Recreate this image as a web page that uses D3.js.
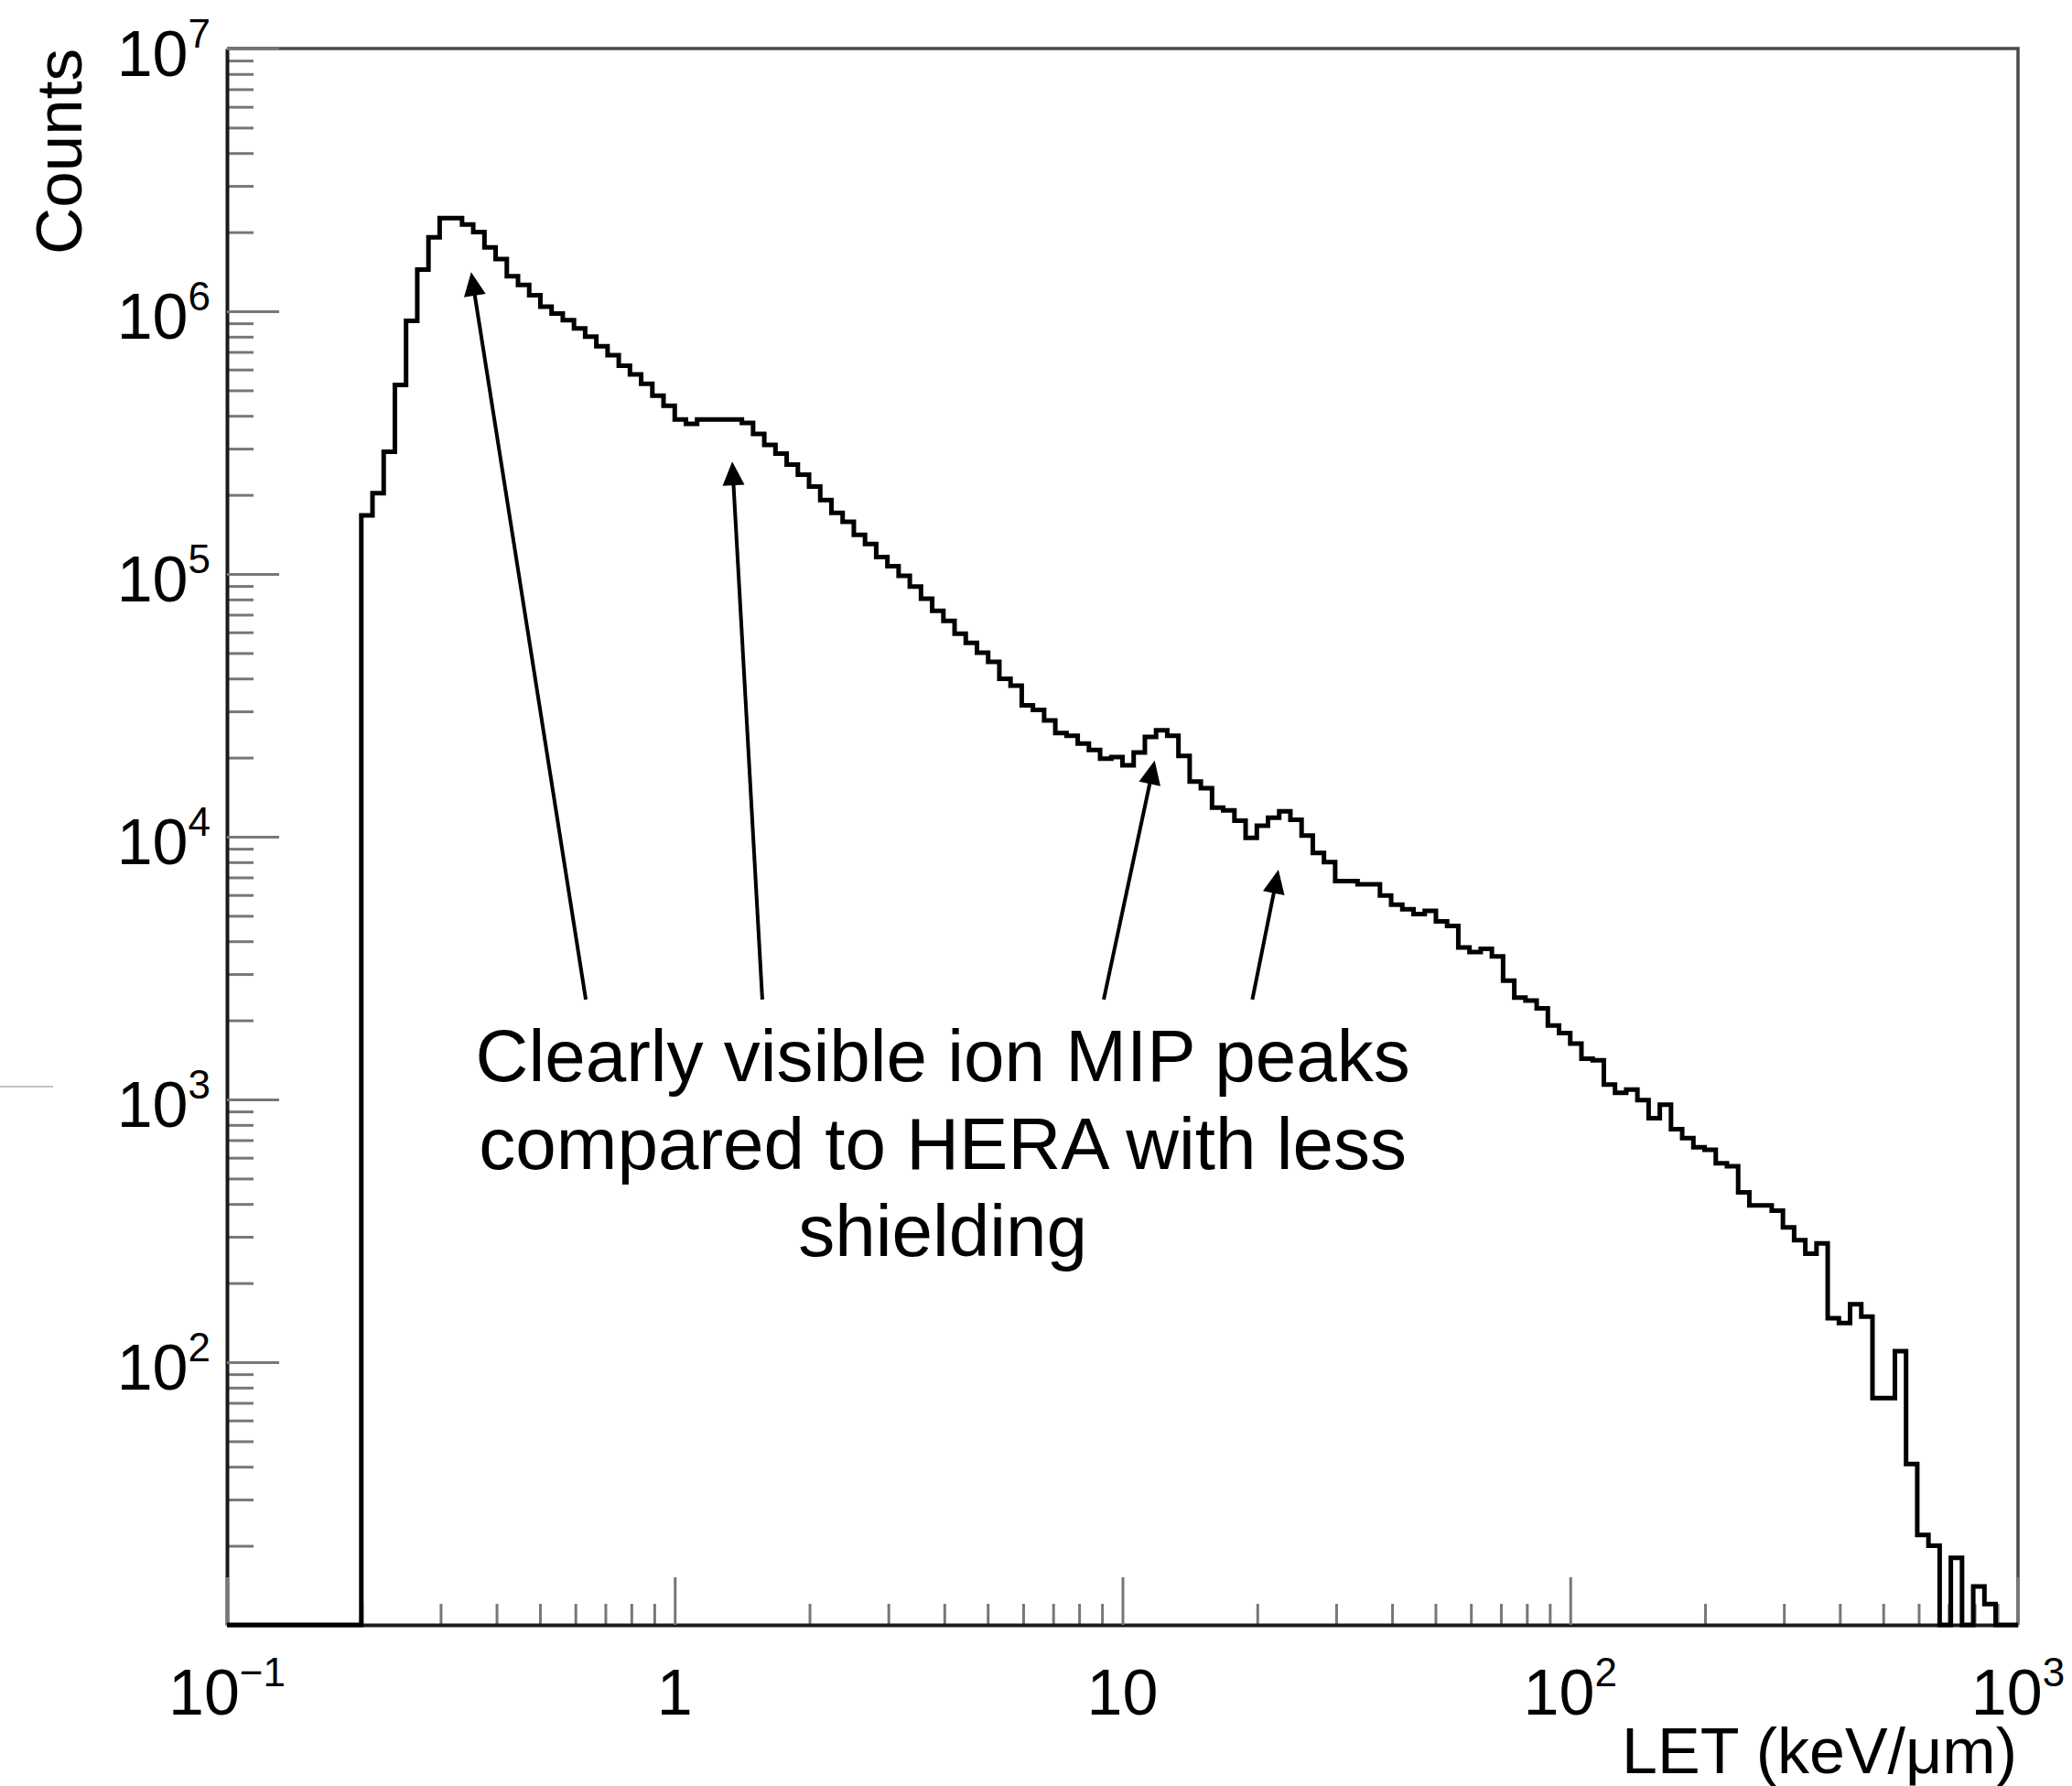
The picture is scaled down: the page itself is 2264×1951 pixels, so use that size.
<!DOCTYPE html>
<html>
<head>
<meta charset="utf-8">
<script src="https://d3js.org/d3.v7.min.js"></script>
<style>
  body { margin: 0; background: #fff; }
  text { font-family: "Liberation Sans", Arial, Helvetica, sans-serif; fill: #000; }
</style>
</head>
<body>
<div id="chart"></div>
<script>
// histogram binning: log bins, 40 per decade from 0.1 to 1000 keV/um
var LET_MIN = 0.1;
var LET_MAX = 1000;
var BINS_PER_DECADE = 40;

// counts per bin (160 bins)
var counts = [
  0, 0, 0, 0, 0, 0, 0, 0, 0, 0, 0, 0,
  167000, 203000, 292000, 524000, 920000, 1440000, 1910000, 2260000,
  2260000, 2140000, 2000000, 1750000, 1580000, 1360000, 1260000, 1150000,
  1040000, 980000, 925000, 860000, 800000, 736000, 680000, 620000,
  575000, 530000, 477000, 437000, 387000, 373000, 387000, 387000,
  387000, 387000, 376000, 341000, 310000, 287000, 261000, 239000,
  215000, 191000, 171000, 158000, 141000, 130000, 116000, 107000,
  98400, 89500, 80500, 72400, 66300, 59200, 54700, 50200,
  46300, 39900, 37600, 31600, 30400, 27700, 24800, 24200,
  22600, 21400, 19800, 20100, 18700, 20900, 24000, 25400,
  24200, 20300, 16200, 15300, 12900, 12600, 11500, 9900,
  11000, 11800, 12500, 11600, 10100, 8680, 8000, 6770,
  6770, 6590, 6590, 5970, 5510, 5290, 5080, 5220,
  4760, 4570, 3790, 3640, 3740, 3500, 2830, 2440,
  2380, 2220, 1910, 1790, 1630, 1430, 1410, 1140,
  1060, 1090, 995, 848, 955, 771, 712, 658,
  643, 571, 557, 443, 395, 395, 377, 326,
  291, 259, 283, 147, 141, 166, 149, 73,
  73, 110, 41, 22, 20, 0, 18, 0,
  14, 12, 0, 0
];

var Y_MIN = 10;
var Y_MAX = 1e7;

// axis labels (base + exponent)
var yTickLabels = [
  { value: 1e2, base: '10', exp: '2' },
  { value: 1e3, base: '10', exp: '3' },
  { value: 1e4, base: '10', exp: '4' },
  { value: 1e5, base: '10', exp: '5' },
  { value: 1e6, base: '10', exp: '6' },
  { value: 1e7, base: '10', exp: '7' }
];
var xTickLabels = [
  { value: 0.1, base: '10', exp: '\u22121' },
  { value: 1, base: '1', exp: '' },
  { value: 10, base: '10', exp: '' },
  { value: 100, base: '10', exp: '2' },
  { value: 1000, base: '10', exp: '3' }
];
var xTitle = 'LET (keV/\u03bcm)';
var yTitle = 'Counts';

// annotation
var noteLines = ['Clearly visible ion MIP peaks', 'compared to HERA with less', 'shielding'];
var noteAt = [3.97, 1174];
var arrows = [
  { from: [0.633, 2400], to: [0.351, 1.41e6] },
  { from: [1.569, 2400], to: [1.344, 2.68e5] },
  { from: [9.08, 2400], to: [11.8, 1.95e4] },
  { from: [19.5, 2400], to: [22.3, 7490] }
];

// set the dimensions and margins of the graph
var MARGIN = { top: 53, right: 59, bottom: 176, left: 248 };
var WIDTH = 2264 - MARGIN.left - MARGIN.right;
var HEIGHT = 1951 - MARGIN.top - MARGIN.bottom;

var x = d3.scaleLog().domain([LET_MIN, LET_MAX]).range([0, WIDTH]);
var y = d3.scaleLog().domain([Y_MIN, Y_MAX]).range([HEIGHT, 0]);

var root = d3.select('#chart')
  .append('svg')
    .attr('width', 2264)
    .attr('height', 1951);

root.append('rect').attr('width', 2264).attr('height', 1951).attr('fill', '#fff');

// stray slide mark on the left edge
root.append('line')
  .attr('x1', 0).attr('x2', 58)
  .attr('y1', 1187).attr('y2', 1187)
  .attr('stroke', '#c4c4c4').attr('stroke-width', 2);

var svg = root.append('g')
  .attr('transform', 'translate(' + MARGIN.left + ',' + MARGIN.top + ')');

// frame (top and right)
svg.append('path')
  .attr('d', 'M0,0H' + WIDTH + 'V' + HEIGHT)
  .attr('fill', 'none')
  .attr('stroke', '#4a4a4a')
  .attr('stroke-width', 3.5);

function isDecade(v) {
  var l = Math.log10(v);
  return Math.abs(l - Math.round(l)) < 1e-9;
}

function styleTicks(g, keepDomain) {
  g.selectAll('.tick line').attr('stroke', '#777').attr('stroke-width', 3);
  g.selectAll('.tick text').remove();
  if (keepDomain) {
    g.select('.domain').attr('stroke', '#1a1a1a').attr('stroke-width', 4);
  } else {
    g.select('.domain').remove();
  }
}

var yMinor = y.ticks().filter(function (v) { return !isDecade(v); });
var yMajor = y.ticks().filter(isDecade);
var xMinor = x.ticks().filter(function (v) { return !isDecade(v); });
var xMajor = x.ticks().filter(isDecade);

// ticks point inwards, ROOT style
svg.append('g')
  .call(d3.axisLeft(y).tickValues(yMinor).tickSize(-29).tickSizeOuter(0))
  .call(styleTicks, false);
svg.append('g')
  .call(d3.axisLeft(y).tickValues(yMajor).tickSize(-57).tickSizeOuter(0))
  .call(styleTicks, true);
svg.append('g')
  .attr('transform', 'translate(0,' + HEIGHT + ')')
  .call(d3.axisBottom(x).tickValues(xMinor).tickSize(-23).tickSizeOuter(0))
  .call(styleTicks, false);
svg.append('g')
  .attr('transform', 'translate(0,' + HEIGHT + ')')
  .call(d3.axisBottom(x).tickValues(xMajor).tickSize(-52).tickSizeOuter(0))
  .call(styleTicks, true);

// tick labels with superscripts
function addLabel(sel, d) {
  sel.append('tspan').attr('font-size', 70).text(d.base);
  if (d.exp) {
    sel.append('tspan').attr('font-size', 44).attr('dy', -31).text(d.exp);
  }
}

yTickLabels.forEach(function (d) {
  svg.append('text')
    .attr('x', -18)
    .attr('y', y(d.value) + 30)
    .attr('text-anchor', 'end')
    .call(addLabel, d);
});

xTickLabels.forEach(function (d) {
  svg.append('text')
    .attr('x', x(d.value))
    .attr('y', HEIGHT + 98)
    .attr('text-anchor', 'middle')
    .call(addLabel, d);
});

svg.append('text')
  .attr('x', WIDTH - 1)
  .attr('y', HEIGHT + 162)
  .attr('text-anchor', 'end')
  .attr('font-size', 70)
  .text(xTitle);

svg.append('text')
  .attr('transform', 'translate(-159,0) rotate(-90)')
  .attr('text-anchor', 'end')
  .attr('font-size', 71)
  .text(yTitle);

// the histogram as a step line
var steps = [{ let: LET_MIN, count: 0 }];
counts.forEach(function (c, i) {
  var lo = LET_MIN * Math.pow(10, i / BINS_PER_DECADE);
  var hi = LET_MIN * Math.pow(10, (i + 1) / BINS_PER_DECADE);
  steps.push({ let: lo, count: c });
  steps.push({ let: hi, count: c });
});
steps.push({ let: LET_MAX, count: 0 });

var histLine = d3.line()
  .x(function (d) { return x(d.let); })
  .y(function (d) { return y(Math.max(d.count, Y_MIN)); });

svg.append('path')
  .datum(steps)
  .attr('fill', 'none')
  .attr('stroke', '#000')
  .attr('stroke-width', 5)
  .attr('stroke-linejoin', 'miter')
  .attr('d', histLine);

// arrows
var HEAD_LEN = 26;
var HEAD_HALF = 12;
arrows.forEach(function (a) {
  var x1 = x(a.from[0]), y1 = y(a.from[1]);
  var x2 = x(a.to[0]), y2 = y(a.to[1]);
  var len = Math.hypot(x2 - x1, y2 - y1);
  var ux = (x2 - x1) / len, uy = (y2 - y1) / len;
  var bx = x2 - ux * HEAD_LEN, by = y2 - uy * HEAD_LEN;
  svg.append('line')
    .attr('x1', x1).attr('y1', y1)
    .attr('x2', bx + ux * 2).attr('y2', by + uy * 2)
    .attr('stroke', '#000')
    .attr('stroke-width', 4);
  svg.append('path')
    .attr('d', 'M' + x2 + ',' + y2 +
      'L' + (bx - uy * HEAD_HALF) + ',' + (by + ux * HEAD_HALF) +
      'L' + (bx + uy * HEAD_HALF) + ',' + (by - ux * HEAD_HALF) + 'Z')
    .attr('fill', '#000');
});

// annotation text
var note = svg.append('text')
  .attr('x', x(noteAt[0]))
  .attr('y', y(noteAt[1]))
  .attr('text-anchor', 'middle')
  .attr('font-size', 80);
noteLines.forEach(function (line, i) {
  note.append('tspan')
    .attr('x', x(noteAt[0]))
    .attr('dy', i === 0 ? 0 : 95.5)
    .text(line);
});
</script>
</body>
</html>
